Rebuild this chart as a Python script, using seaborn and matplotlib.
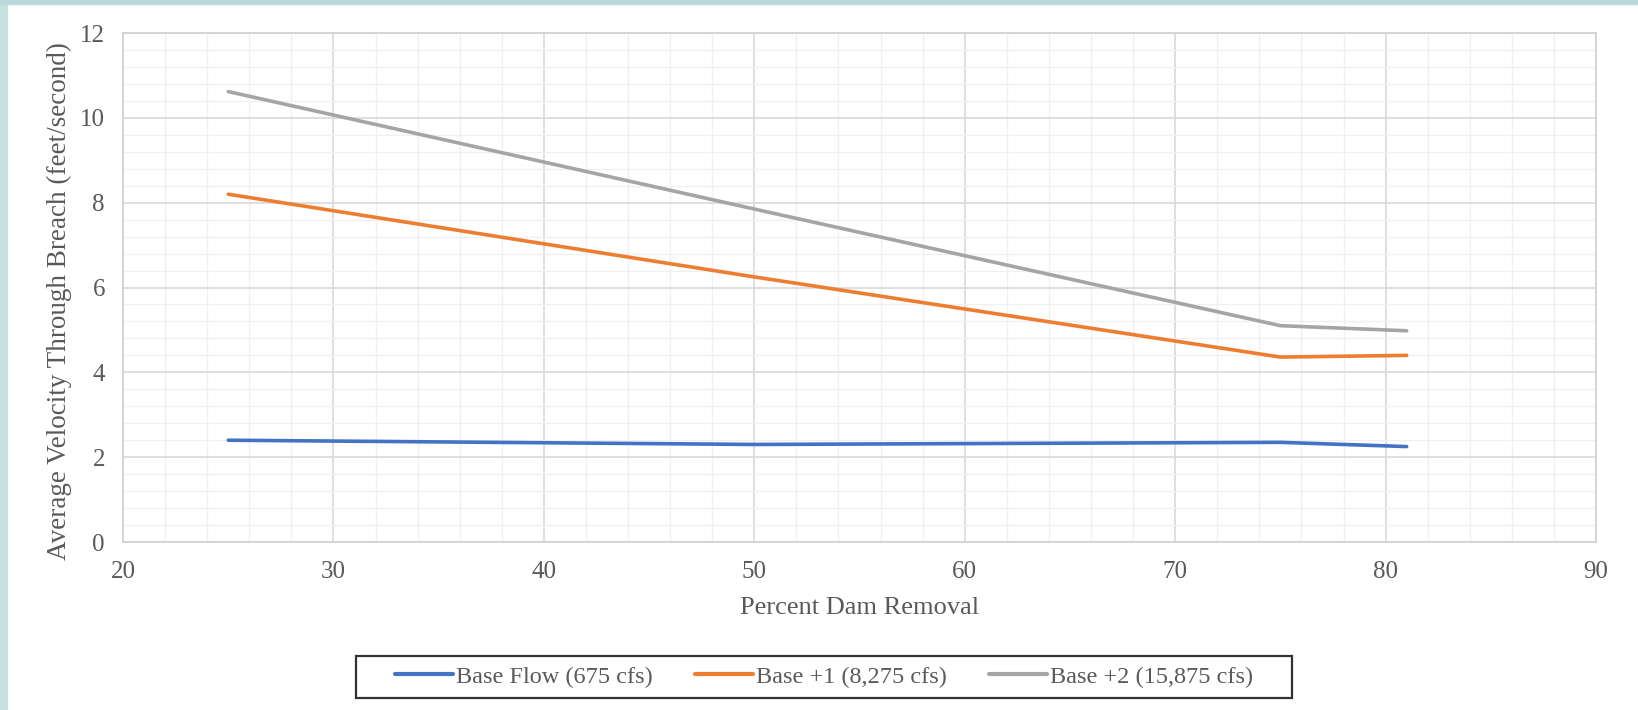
import matplotlib
matplotlib.use("Agg")
import matplotlib.pyplot as plt
from matplotlib.patches import Rectangle
from matplotlib.ticker import MultipleLocator
from matplotlib.lines import Line2D
import seaborn as sns
import pandas as pd

percent_removal = [25, 50, 75, 81]
base_flow = [2.40, 2.30, 2.35, 2.25]
base_plus1 = [8.20, 6.25, 4.36, 4.40]
base_plus2 = [10.62, 7.85, 5.10, 4.98]
series_names = ["Base Flow (675 cfs)", "Base +1 (8,275 cfs)", "Base +2 (15,875 cfs)"]
colors = ["#4472C4", "#ED7D31", "#A5A5A5"]

rows = []
for name, vals in zip(series_names, [base_flow, base_plus1, base_plus2]):
    for x, y in zip(percent_removal, vals):
        rows.append({"Percent Dam Removal": x, "Velocity": y, "Series": name})
df = pd.DataFrame(rows)

sns.set_theme(style="white")
plt.rcParams["font.family"] = ["Liberation Serif", "DejaVu Serif"]

fig = plt.figure(figsize=(16.38, 7.10), dpi=100)
ax = fig.add_axes([0.0751, 0.2366, 0.8993, 0.7169])

sns.lineplot(data=df, x="Percent Dam Removal", y="Velocity", hue="Series",
             palette=colors, hue_order=series_names, linewidth=2.6, ax=ax,
             legend=False, solid_capstyle="round")

ax.set_xlim(20, 90)
ax.set_ylim(0, 12)
ax.xaxis.set_major_locator(MultipleLocator(10))
ax.xaxis.set_minor_locator(MultipleLocator(2))
ax.yaxis.set_major_locator(MultipleLocator(2))
ax.yaxis.set_minor_locator(MultipleLocator(0.4))
ax.grid(which="major", color="#d9d9d9", linewidth=1.2)
ax.grid(which="minor", color="#f0f0f0", linewidth=1.0)
ax.set_axisbelow(True)
for s in ax.spines.values():
    s.set_color("#d0d0d0")
    s.set_linewidth(1.2)
ax.tick_params(axis="both", which="both", length=0, labelsize=18, colors="#595959")
ax.tick_params(axis="x", pad=14)
ax.tick_params(axis="y", pad=13)
ax.set_xlabel("Percent Dam Removal", fontsize=19, color="#595959", labelpad=10)
ax.set_ylabel("Average Velocity Through Breach (feet/second)", fontsize=19.5, color="#595959")
ax.yaxis.set_label_coords(-0.0346, 0.4735)

handles = [Line2D([0], [0], color=c, lw=3, solid_capstyle="round") for c in colors]
leg = fig.legend(handles, series_names, loc="center", bbox_to_anchor=(0.503, 0.047),
                 ncol=3, fontsize=17.5, frameon=True, fancybox=False, handlelength=2.4,
                 handletextpad=0.1, columnspacing=1.75, borderpad=0.4)
frame = leg.get_frame()
frame.set_edgecolor("black")
frame.set_linewidth(1.6)
frame.set_boxstyle("square", pad=1.2)
frame.set_mutation_aspect(0.01)
for t in leg.get_texts():
    t.set_color("#595959")

fig.patches.append(Rectangle((0, 0), 7 / 1638, 1, transform=fig.transFigure,
                             color="#c8e1e3", zorder=0))
fig.patches.append(Rectangle((0, 1 - 4 / 710), 1, 4 / 710, transform=fig.transFigure,
                             color="#b9d9db", zorder=0))

fig.savefig("out.png", dpi=100)
